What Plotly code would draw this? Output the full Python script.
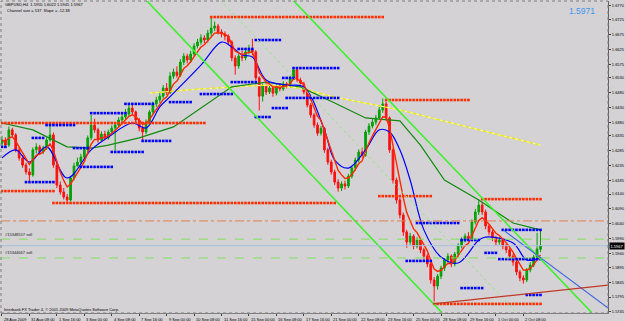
import plotly.graph_objects as go

# ---------------- data ----------------
opens = [1.6310,1.6321,1.6304,1.6355,1.6338,1.6288,1.6261,1.6237,1.6214,1.6204,
         1.6288,1.6298,1.6281,1.6294,1.6321,1.6338,1.6237,1.6170,1.6147,1.6130,
         1.6120,1.6194,1.6234,1.6247,1.6264,1.6288,1.6328,1.6371,1.6355,1.6321,
         1.6341,1.6328,1.6348,1.6361,1.6371,1.6388,1.6398,1.6408,1.6428,1.6415,
         1.6388,1.6361,1.6348,1.6381,1.6415,1.6442,1.6455,1.6468,1.6495,1.6480,
         1.6535,1.6549,1.6538,1.6582,1.6602,1.6589,1.6609,1.6636,1.6649,1.6663,
         1.6656,1.6679,1.6696,1.6703,1.6683,1.6676,1.6669,1.6649,1.6596,1.6569,
         1.6602,1.6596,1.6616,1.6623,1.6616,1.6529,1.6468,1.6502,1.6482,1.6495,
         1.6478,1.6502,1.6492,1.6509,1.6502,1.6529,1.6556,1.6522,1.6509,1.6482,
         1.6438,1.6405,1.6371,1.6344,1.6360,1.6288,1.6247,1.6214,1.6180,1.6160,
         1.6174,1.6167,1.6200,1.6227,1.6254,1.6281,1.6270,1.6348,1.6368,1.6381,
         1.6395,1.6422,1.6442,1.6395,1.6288,1.6187,1.6120,1.6070,1.6013,1.5979,
         1.5999,1.5966,1.5986,1.5953,1.5932,1.5906,1.5852,1.5832,1.5865,1.5892,
         1.5919,1.5932,1.5906,1.5939,1.5966,1.5986,1.5999,1.5990,1.6046,1.6080,
         1.6103,1.6080,1.6033,1.6013,1.5993,1.5979,1.5986,1.5966,1.5953,1.5932,
         1.5912,1.5879,1.5859,1.5852,1.5886,1.5902,1.5929,1.5955]
highs = [1.6335,1.6330,1.6366,1.6362,1.6344,1.6297,1.6270,1.6245,1.6226,1.6296,
         1.6310,1.6305,1.6302,1.6330,1.6368,1.6346,1.6244,1.6182,1.6160,1.6140,
         1.6200,1.6245,1.6262,1.6275,1.6296,1.6336,1.6405,1.6392,1.6362,1.6350,
         1.6352,1.6356,1.6370,1.6380,1.6398,1.6410,1.6425,1.6445,1.6440,1.6420,
         1.6395,1.6370,1.6390,1.6422,1.6450,1.6466,1.6478,1.6505,1.6512,1.6548,
         1.6560,1.6568,1.6592,1.6612,1.6610,1.6620,1.6645,1.6660,1.6675,1.6672,
         1.6690,1.6733,1.6718,1.6710,1.6692,1.6685,1.6675,1.6655,1.6605,1.6612,
         1.6620,1.6625,1.6640,1.6660,1.6622,1.6535,1.6510,1.6512,1.6505,1.6502,
         1.6510,1.6512,1.6518,1.6515,1.6536,1.6566,1.6562,1.6530,1.6516,1.6490,
         1.6445,1.6412,1.6380,1.6368,1.6365,1.6295,1.6255,1.6222,1.6190,1.6182,
         1.6185,1.6208,1.6235,1.6262,1.6290,1.6295,1.6355,1.6378,1.6392,1.6405,
         1.6432,1.6460,1.6450,1.6400,1.6295,1.6195,1.6128,1.6078,1.6020,1.6010,
         1.6005,1.5995,1.5992,1.5960,1.5940,1.5912,1.5862,1.5872,1.5900,1.5926,
         1.5942,1.5938,1.5946,1.5975,1.5995,1.6008,1.6012,1.6055,1.6090,1.6122,
         1.6115,1.6088,1.6040,1.6020,1.6000,1.5995,1.5992,1.5975,1.5960,1.5940,
         1.5918,1.5886,1.5868,1.5892,1.5912,1.5936,1.6010,1.6022]
lows = [1.6302,1.6296,1.6298,1.6330,1.6280,1.6252,1.6228,1.6205,1.6182,1.6198,
        1.6276,1.6272,1.6274,1.6288,1.6315,1.6228,1.6160,1.6138,1.6122,1.6113,
        1.6115,1.6186,1.6232,1.6240,1.6255,1.6280,1.6320,1.6345,1.6312,1.6315,
        1.6320,1.6322,1.6340,1.6285,1.6362,1.6380,1.6390,1.6400,1.6405,1.6378,
        1.6350,1.6320,1.6340,1.6372,1.6408,1.6432,1.6446,1.6460,1.6472,1.6475,
        1.6526,1.6530,1.6532,1.6572,1.6578,1.6580,1.6600,1.6628,1.6640,1.6645,
        1.6648,1.6670,1.6686,1.6675,1.6665,1.6655,1.6640,1.6585,1.6540,1.6560,
        1.6585,1.6588,1.6608,1.6605,1.6520,1.6420,1.6450,1.6472,1.6475,1.6466,
        1.6470,1.6484,1.6485,1.6494,1.6495,1.6522,1.6515,1.6500,1.6474,1.6430,
        1.6395,1.6362,1.6335,1.6336,1.6278,1.6238,1.6205,1.6170,1.6148,1.6150,
        1.6155,1.6160,1.6192,1.6218,1.6245,1.6262,1.6265,1.6338,1.6360,1.6372,
        1.6388,1.6412,1.6385,1.6278,1.6175,1.6108,1.6058,1.6000,1.5960,1.5970,
        1.5955,1.5958,1.5942,1.5920,1.5895,1.5840,1.5780,1.5820,1.5855,1.5882,
        1.5910,1.5895,1.5898,1.5930,1.5958,1.5978,1.5982,1.5985,1.6038,1.6070,
        1.6070,1.6022,1.6002,1.5982,1.5968,1.5970,1.5955,1.5942,1.5922,1.5900,
        1.5868,1.5848,1.5840,1.5845,1.5878,1.5895,1.5922,1.5945]
closes = [1.6321,1.6304,1.6355,1.6338,1.6288,1.6261,1.6237,1.6214,1.6204,1.6288,
          1.6298,1.6281,1.6294,1.6321,1.6338,1.6237,1.6170,1.6147,1.6130,1.6120,
          1.6194,1.6234,1.6247,1.6264,1.6288,1.6328,1.6371,1.6355,1.6321,1.6341,
          1.6328,1.6348,1.6361,1.6371,1.6388,1.6398,1.6408,1.6428,1.6415,1.6388,
          1.6361,1.6348,1.6381,1.6415,1.6442,1.6455,1.6468,1.6495,1.6480,1.6535,
          1.6549,1.6538,1.6582,1.6602,1.6589,1.6609,1.6636,1.6649,1.6663,1.6656,
          1.6679,1.6696,1.6703,1.6683,1.6676,1.6669,1.6649,1.6596,1.6569,1.6602,
          1.6596,1.6616,1.6623,1.6616,1.6529,1.6468,1.6502,1.6482,1.6495,1.6478,
          1.6502,1.6492,1.6509,1.6502,1.6529,1.6556,1.6522,1.6509,1.6482,1.6438,
          1.6405,1.6371,1.6344,1.6360,1.6288,1.6247,1.6214,1.6180,1.6160,1.6174,
          1.6167,1.6200,1.6227,1.6254,1.6281,1.6270,1.6348,1.6368,1.6381,1.6395,
          1.6422,1.6442,1.6395,1.6288,1.6187,1.6120,1.6070,1.6013,1.5979,1.5999,
          1.5966,1.5986,1.5953,1.5932,1.5906,1.5852,1.5832,1.5865,1.5892,1.5919,
          1.5932,1.5906,1.5939,1.5966,1.5986,1.5999,1.5990,1.6046,1.6080,1.6103,
          1.6080,1.6033,1.6013,1.5993,1.5979,1.5986,1.5966,1.5953,1.5932,1.5912,
          1.5879,1.5859,1.5852,1.5886,1.5902,1.5929,1.5956,1.5967]

time_ticks = [0, 8, 16, 24, 32, 40, 48, 56, 64, 72, 80, 88, 96, 104, 112, 120, 128, 136, 144, 152]
time_labels = ["28 Aug 2009", "31 Aug 08:00", "1 Sep 16:00", "3 Sep 00:00", "4 Sep 08:00",
               "7 Sep 16:00", "9 Sep 00:00", "10 Sep 08:00", "11 Sep 16:00", "15 Sep 00:00",
               "16 Sep 08:00", "17 Sep 16:00", "21 Sep 00:00", "22 Sep 08:00", "23 Sep 16:00",
               "25 Sep 00:00", "28 Sep 08:00", "29 Sep 16:00", "1 Oct 00:00", "2 Oct 08:00"]
price_ticks = [1.6770, 1.6725, 1.6675, 1.6625, 1.6575, 1.6530, 1.6480, 1.6430, 1.6380, 1.6335,
               1.6285, 1.6235, 1.6185, 1.6140, 1.6090, 1.6040, 1.5990, 1.5940, 1.5895, 1.5845,
               1.5795, 1.5745]

# slower moving averages (read at points)
blue_ma_i = [0, 4, 8, 13, 19, 26, 31, 38, 42, 46, 48, 58, 64, 67, 70, 73, 77, 83, 88, 94,
             97, 101, 106, 110, 113, 116, 119, 123, 128, 133, 139, 141, 149, 153, 157]
blue_ma_p = [1.6261, 1.6288, 1.6247, 1.6298, 1.6194, 1.6288, 1.6331, 1.6378, 1.6361, 1.6432,
             1.6455, 1.6572, 1.6649, 1.6633, 1.6606, 1.6599, 1.6522, 1.6505, 1.6499, 1.6355,
             1.6254, 1.6227, 1.6288, 1.6355, 1.6348, 1.6288, 1.6187, 1.6020, 1.5929, 1.5909,
             1.5986, 1.5996, 1.5976, 1.5919, 1.5926]
green_ma_i = [0, 9, 19, 26, 31, 40, 50, 58, 67, 77, 87, 97, 106, 116, 122, 129, 139, 149, 157]
green_ma_p = [1.6378, 1.6355, 1.6298, 1.6294, 1.6304, 1.6328, 1.6365, 1.6428, 1.6499, 1.6515,
              1.6499, 1.6445, 1.6395, 1.6385, 1.6304, 1.6187, 1.6120, 1.6043, 1.6020]
yellow_ma_i = [43, 58, 77, 87, 97, 116, 137, 157]
yellow_ma_p = [1.6478, 1.6492, 1.6505, 1.6495, 1.6465, 1.6422, 1.6361, 1.6304]

# dotted support / resistance levels (start bar, end bar, price)
red_lvl_start = [0, 0, 15, 61, 112, 110, 140, 126]
red_lvl_end = [59, 15, 97, 111, 136, 125, 157, 157]
red_lvl_price = [1.6378, 1.6150, 1.6110, 1.6733, 1.6455, 1.6133, 1.6123, 1.5772]
blue_lvl_start = [0, 9, 13, 7, 21, 26, 23, 32, 36, 41, 49, 58, 67, 69, 74, 74, 79, 82, 85, 83,
                  121, 118, 134, 134, 141, 146, 145, 153]
blue_lvl_end = [1, 12, 21, 15, 25, 36, 32, 41, 44, 49, 55, 67, 74, 73, 81, 78, 83, 85, 98, 98,
                133, 125, 139, 140, 144, 157, 157, 157]
blue_lvl_price = [1.6298, 1.6328, 1.6371, 1.6180, 1.6294, 1.6411, 1.6231, 1.6281, 1.6442, 1.6318,
                  1.6448, 1.6475, 1.6515, 1.6626, 1.6656, 1.6398, 1.6428, 1.6529, 1.6562, 1.6462,
                  1.6043, 1.5916, 1.5986, 1.5825, 1.5943, 1.6020, 1.5922, 1.5802]

# trend / channel objects (bar, price anchors)
chan_upper_i, chan_upper_p = [84.8, 172.0], [1.6790, 1.5742]
chan_lower_i, chan_lower_p = [42.0, 128.3], [1.6790, 1.5742]
chan_mid_i, chan_mid_p = [63.6, 150.1], [1.6790, 1.5742]
blue_trend_i, blue_trend_p = [146.1, 176.7], [1.6020, 1.5758]
red_trend_i, red_trend_p = [125.7, 176.7], [1.5772, 1.5835]

hlines_price = [1.6050, 1.5989, 1.5967, 1.5926]
order_labels = ["#15348557 sell", "#15344667 sell"]
order_prices = [1.5989, 1.5926]

bid = 1.5967
ask_text = "1.5971"
header = "GBPUSD,H4  1.5955 1.6022 1.5945 1.5967"
channel_text = "Channel size = 537  Slope = -12.38"
copyright_text = "Interbank FX Trader 4, \u00a9 2001-2009 MetaQuotes Software Corp."

# ---------------- figure ----------------
W, H = 625, 321
ML, MR, MT, MB = 1, 17, 1, 8
PW, PH = W - ML - MR, H - MT - MB
BG = "#d4d2d4"
FONT = "Liberation Sans"


def px(x):
    return (x - ML) / PW


def py(y):
    return 1 - (y - MT) / PH


def ema(vals, n):
    k = 2.0 / (n + 1)
    out = [vals[0]]
    for v in vals[1:]:
        out.append(out[-1] + k * (v - out[-1]))
    return out


bars = list(range(len(closes)))
fig = go.Figure()

fig.add_trace(go.Candlestick(
    x=bars, open=opens, high=highs, low=lows, close=closes,
    increasing=dict(line=dict(color="#00a000", width=1), fillcolor="#00a000"),
    decreasing=dict(line=dict(color="#ff1010", width=1), fillcolor="#ff1010"),
    whiskerwidth=0, showlegend=False, hoverinfo="skip"))

fig.add_trace(go.Scatter(x=yellow_ma_i, y=yellow_ma_p, mode="lines",
                         line=dict(color="#e8e800", width=1.3), showlegend=False))
fig.add_trace(go.Scatter(x=yellow_ma_i, y=yellow_ma_p, mode="lines",
                         line=dict(color="#ffffff", width=0.8, dash="dot"), showlegend=False))
fig.add_trace(go.Scatter(x=green_ma_i, y=green_ma_p, mode="lines",
                         line=dict(color="#108a10", width=1.2), showlegend=False))
fig.add_trace(go.Scatter(x=blue_ma_i, y=blue_ma_p, mode="lines", line_shape="spline",
                         line=dict(color="#0000ff", width=1.2), showlegend=False))
fig.add_trace(go.Scatter(x=bars, y=ema(closes, 5), mode="lines",
                         line=dict(color="#ff2800", width=1.4), showlegend=False))

# dotted levels
for starts, ends, prices, col in [(red_lvl_start, red_lvl_end, red_lvl_price, "#ff3000"),
                                  (blue_lvl_start, blue_lvl_end, blue_lvl_price, "#0000ff")]:
    xs, ys = [], []
    for s, e, p in zip(starts, ends, prices):
        for b in range(s, e + 1):
            xs.append(b)
            ys.append(p)
    fig.add_trace(go.Scatter(x=xs, y=ys, mode="markers",
                             marker=dict(symbol="square", size=2.6, color=col, line=dict(width=0)),
                             showlegend=False))

# channel and trend lines
fig.add_trace(go.Scatter(x=chan_upper_i, y=chan_upper_p, mode="lines",
                         line=dict(color="#40ee30", width=1.6), showlegend=False))
fig.add_trace(go.Scatter(x=chan_lower_i, y=chan_lower_p, mode="lines",
                         line=dict(color="#40ee30", width=1.6), showlegend=False))
fig.add_trace(go.Scatter(x=chan_mid_i, y=chan_mid_p, mode="lines",
                         line=dict(color="#90e880", width=1, dash="dot"), showlegend=False))
fig.add_trace(go.Scatter(x=blue_trend_i, y=blue_trend_p, mode="lines",
                         line=dict(color="#4068e0", width=1.1), showlegend=False))
fig.add_trace(go.Scatter(x=red_trend_i, y=red_trend_p, mode="lines",
                         line=dict(color="#c03828", width=1.2), showlegend=False))

shapes = []
hl_styles = [("#e08050", "dashdot"), ("#80e060", "dash"), ("#a8c0e0", "solid"), ("#80e060", "dash")]
for p, (c, d) in zip(hlines_price, hl_styles):
    shapes.append(dict(type="line", xref="paper", yref="y", x0=0, x1=1, y0=p, y1=p,
                       line=dict(color=c, width=1, dash=d), layer="above"))
shapes.append(dict(type="rect", xref="paper", yref="paper", x0=0, x1=1, y0=0, y1=1,
                   line=dict(color="#808080", width=1, dash="dot")))

ann = []
for t, lab in zip(time_ticks, time_labels):
    ann.append(dict(x=t, xref="x", y=0, yref="paper", yanchor="top", xanchor="left",
                    yshift=-1.5, xshift=0, text=lab, showarrow=False,
                    font=dict(size=4, color="#000000", family=FONT)))
ann.append(dict(x=px(3), y=py(4.5), xref="paper", yref="paper", xanchor="left", yanchor="middle",
                text=header, showarrow=False, font=dict(size=4, color="#000000", family=FONT)))
ann.append(dict(x=px(5), y=py(10), xref="paper", yref="paper", xanchor="left", yanchor="middle",
                text=channel_text, showarrow=False, font=dict(size=4, color="#000000", family=FONT)))
ann.append(dict(x=px(2), y=py(309.5), xref="paper", yref="paper", xanchor="left", yanchor="middle",
                text=copyright_text, showarrow=False, font=dict(size=4, color="#000000", family=FONT)))
ann.append(dict(x=px(597), y=py(11.5), xref="paper", yref="paper", xanchor="right", yanchor="middle",
                text=ask_text, showarrow=False, font=dict(size=8.5, color="#3c96f0", family=FONT)))
for lab, p in zip(order_labels, order_prices):
    ann.append(dict(x=px(3), y=p, xref="paper", yref="y", xanchor="left", yanchor="bottom",
                    yshift=0.5, text=lab, showarrow=False,
                    font=dict(size=4, color="#202020", family=FONT)))
ann.append(dict(x=1, y=bid, xref="paper", yref="y", xanchor="left", yanchor="middle",
                xshift=1, text="%.4f" % bid, showarrow=False, bgcolor="#000000", borderpad=0.5,
                font=dict(size=4, color="#ffffff", family=FONT)))

fig.update_layout(
    width=W, height=H, margin=dict(l=ML, r=MR, t=MT, b=MB),
    paper_bgcolor=BG, plot_bgcolor=BG, shapes=shapes, annotations=ann,
    showlegend=False,
    xaxis=dict(range=[-0.29, 176.68], showgrid=False, zeroline=False, rangeslider=dict(visible=False),
               tickvals=time_ticks, showticklabels=False, ticks="outside", ticklen=2,
               tickcolor="#404040", showline=True, linecolor="#808080", fixedrange=True),
    yaxis=dict(range=[1.57415, 1.67867], side="right", showgrid=False, zeroline=False,
               tickvals=price_ticks, ticktext=["%.4f" % v for v in price_ticks],
               tickfont=dict(size=4, color="#000000", family=FONT), ticks="outside", ticklen=2,
               tickcolor="#404040", showline=True, linecolor="#606060", fixedrange=True),
)

fig.write_html("out.html")
